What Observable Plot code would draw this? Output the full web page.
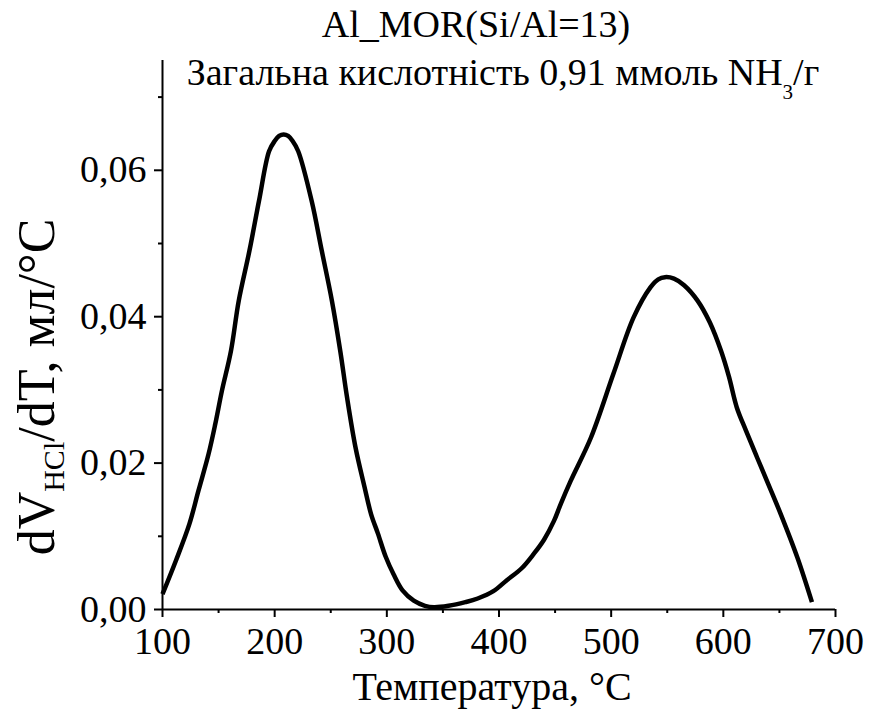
<!DOCTYPE html>
<html>
<head>
<meta charset="utf-8">
<script src="https://cdn.jsdelivr.net/npm/d3@7"></script>
<script src="https://cdn.jsdelivr.net/npm/@observablehq/plot@0.6"></script>
<style>
  html, body { margin: 0; padding: 0; background: white; }
  #chart svg { display: block; }
  #chart svg, #chart svg text { font-family: "Liberation Serif", "Times New Roman", Times, Tinos, serif !important; }
</style>
</head>
<body>
<div id="chart"></div>
<script>
// Temperature, °C
const temps = [100, 112, 124, 132, 141, 147, 153, 161, 168, 177.5, 186, 195, 200, 204, 208, 212, 216, 221, 233, 242, 251, 258.5, 264.5, 272, 280, 286, 292, 299, 306, 314, 324, 334, 342, 355, 370, 381, 395, 407, 420, 431, 440, 449, 455, 464, 482, 502, 520, 535, 542, 548, 556, 565, 577, 588, 598, 605, 612, 620, 630, 641, 651, 666, 679];
// dV_HCl/dT, мл/°C
const dvdt = [0.0021, 0.0067, 0.0117, 0.0162, 0.0212, 0.0253, 0.0299, 0.0353, 0.0422, 0.0490, 0.0558, 0.0626, 0.0640, 0.0647, 0.0649, 0.0647, 0.0640, 0.0626, 0.0558, 0.0490, 0.0422, 0.0353, 0.0290, 0.0222, 0.0168, 0.0130, 0.0104, 0.0072, 0.0048, 0.0026, 0.0012, 0.0005, 0.0003, 0.0005, 0.0010, 0.0015, 0.0025, 0.0040, 0.0056, 0.0076, 0.0095, 0.0121, 0.0144, 0.0176, 0.0235, 0.0322, 0.0399, 0.0440, 0.0451, 0.0454, 0.0452, 0.0443, 0.0422, 0.0392, 0.0353, 0.0318, 0.0276, 0.0245, 0.0208, 0.0168, 0.0131, 0.0071, 0.0010];

const xTicks = [100, 200, 300, 400, 500, 600, 700];
const xMinor = [150, 250, 350, 450, 550, 650];
const yTicks = [0, 0.02, 0.04, 0.06];
const yMinor = [0.01, 0.03, 0.05, 0.07];

const titleText = "Al_MOR(Si/Al=13)";
const subtitleMain = "Загальна кислотність 0,91 ммоль NH";
const subtitleSub = "3";
const subtitleEnd = "/г";
const xLabel = "Температура, °C";
const yLabelMain = "dV";
const yLabelSub = "HCl";
const yLabelEnd = "/dT, мл/°C";

const data = temps.map((t, i) => ({t, v: dvdt[i]}));
const fmtY = d => d3.format(".2f")(d).replace(".", ",");
const font = "Liberation Serif, Times New Roman, Times, Tinos, serif";

const svg = Plot.plot({
  width: 870,
  height: 724,
  marginLeft: 162,
  marginRight: 35,
  marginTop: 60,
  marginBottom: 115,
  x: {domain: [100, 700]},
  y: {domain: [0, 0.075]},
  style: {fontFamily: font, fontSize: "38px", color: "black", background: "white", overflow: "visible"},
  marks: [
    Plot.axisX(xTicks, {tickSize: 8, tickPadding: 10, tickFormat: d => String(d), label: null, strokeWidth: 2, fontSize: 38}),
    Plot.axisX(xMinor, {tickSize: 4, tickFormat: () => "", label: null, strokeWidth: 2}),
    Plot.axisY(yTicks, {tickSize: 8, tickPadding: 8, tickFormat: fmtY, label: null, strokeWidth: 2, fontSize: 38}),
    Plot.axisY(yMinor, {tickSize: 4, tickFormat: () => "", label: null, strokeWidth: 2}),
    Plot.ruleY([0], {x1: 100, x2: 700, stroke: "black", strokeWidth: 2}),
    Plot.ruleX([100], {y1: 0, y2: 0.075, stroke: "black", strokeWidth: 2}),
    Plot.line(data, {x: "t", y: "v", stroke: "black", strokeWidth: 4.5, curve: "catmull-rom", strokeLinecap: "butt"})
  ]
});

const s = d3.select(svg);

s.append("text")
  .attr("x", 476).attr("y", 37)
  .attr("text-anchor", "middle")
  .attr("font-size", 38).attr("fill", "black")
  .text(titleText);

const sub = s.append("text")
  .attr("x", 503).attr("y", 85)
  .attr("text-anchor", "middle")
  .attr("font-size", 38).attr("fill", "black");
sub.append("tspan").text(subtitleMain);
sub.append("tspan").attr("font-size", 21).attr("dy", 14).text(subtitleSub);
sub.append("tspan").attr("dy", -14).text(subtitleEnd);

s.append("text")
  .attr("x", 492).attr("y", 700)
  .attr("text-anchor", "middle")
  .attr("font-size", 40).attr("fill", "black")
  .text(xLabel);

const yl = s.append("text")
  .attr("transform", "translate(54,387) rotate(-90)")
  .attr("text-anchor", "middle")
  .attr("font-size", 52).attr("fill", "black");
yl.append("tspan").text(yLabelMain);
yl.append("tspan").attr("font-size", 30).attr("dy", 10).text(yLabelSub);
yl.append("tspan").attr("dy", -10).text(yLabelEnd);

document.getElementById("chart").appendChild(svg);
</script>
</body>
</html>
